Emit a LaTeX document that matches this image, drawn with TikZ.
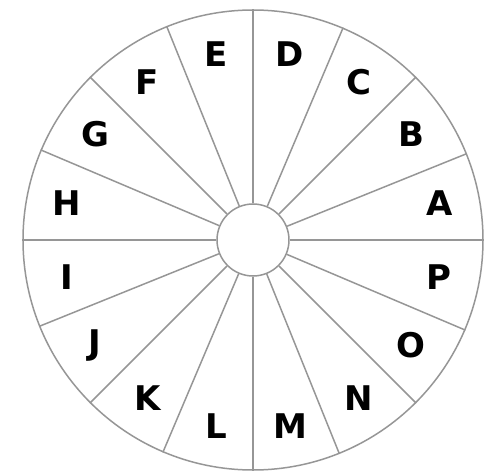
\documentclass[tikz,border=0pt]{standalone}
\usepackage{fontspec}
\newfontfamily\wheelfont{DejaVu Sans}
\usetikzlibrary{positioning}
\definecolor{spokegray}{RGB}{150, 150, 150}

\begin{document}
\begin{tikzpicture}[x=1pt, y=1pt,
    ring/.style={circle, draw=spokegray, line width=1.5pt, inner sep=0pt},
    spoke/.style={draw=spokegray, line width=1.5pt},
    letter/.style={font=\wheelfont\bfseries\fontsize{34}{38}\selectfont, inner sep=0pt}]
  \useasboundingbox (-253, -232) rectangle (235, 240);

  \node[ring, minimum size=460pt] (rim) at (0, 0) {};
  \node[ring, minimum size=72pt]  (hub) at (0, 0) {};

  % spokes from hub to rim
  \draw[spoke] (hub.0)     -- (rim.0);
  \draw[spoke] (hub.22.5)  -- (rim.22.5);
  \draw[spoke] (hub.45)    -- (rim.45);
  \draw[spoke] (hub.67.5)  -- (rim.67.5);
  \draw[spoke] (hub.90)    -- (rim.90);
  \draw[spoke] (hub.112.5) -- (rim.112.5);
  \draw[spoke] (hub.135)   -- (rim.135);
  \draw[spoke] (hub.157.5) -- (rim.157.5);
  \draw[spoke] (hub.180)   -- (rim.180);
  \draw[spoke] (hub.202.5) -- (rim.202.5);
  \draw[spoke] (hub.225)   -- (rim.225);
  \draw[spoke] (hub.247.5) -- (rim.247.5);
  \draw[spoke] (hub.270)   -- (rim.270);
  \draw[spoke] (hub.292.5) -- (rim.292.5);
  \draw[spoke] (hub.315)   -- (rim.315);
  \draw[spoke] (hub.337.5) -- (rim.337.5);

  % sector letters
  \node[letter] (sA) at (11.25:190)  {A};
  \node[letter] (sB) at (33.75:190)  {B};
  \node[letter] (sC) at (56.25:190)  {C};
  \node[letter] (sD) at (78.75:190)  {D};
  \node[letter] (sE) at (101.25:190) {E};
  \node[letter] (sF) at (123.75:190) {F};
  \node[letter] (sG) at (146.25:190) {G};
  \node[letter] (sH) at (168.75:190) {H};
  \node[letter] (sI) at (191.25:190) {I};
  \node[letter] (sJ) at (213.75:190) {J};
  \node[letter] (sK) at (236.25:190) {K};
  \node[letter] (sL) at (258.75:190) {L};
  \node[letter] (sM) at (281.25:190) {M};
  \node[letter] (sN) at (303.75:190) {N};
  \node[letter] (sO) at (326.25:190) {O};
  \node[letter] (sP) at (348.75:190) {P};
\end{tikzpicture}
\end{document}
